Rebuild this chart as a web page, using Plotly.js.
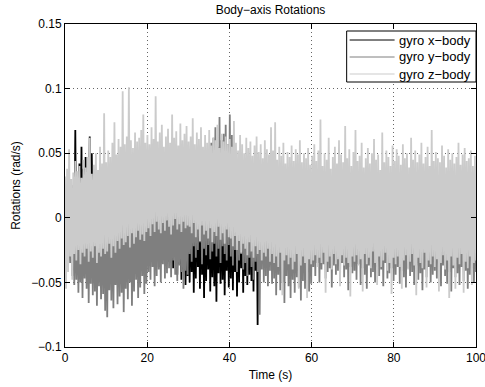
<!DOCTYPE html>
<html>
<head>
<meta charset="utf-8">
<script src="https://cdn.plot.ly/plotly-3.0.1.min.js"></script>
<style>html,body{margin:0;padding:0;background:#fff;}#chart{width:485px;height:387px;}</style>
</head>
<body>
<div id="chart"></div>
<script>
const seriesNames = ["gyro x\u2212body", "gyro y\u2212body", "gyro z\u2212body"];
const durationSeconds = 100;

const gyroX = [
18,-25, 22,-30, 15,-28, 20,-33, 25,-27, 68,-31, 30,-24, 42,-35, 55,-29, 38,-26,
47,-32, 36,-28, 63,-34, 50,-25, 28,-30, 21,-27, 24,-33, 17,-29, 23,-26, 19,-31,
20,-32, 16,-28, 24,-36, 18,-30, 22,-27, 15,-34, 21,-29, 19,-38, 23,-31, 17,-26,
25,-33, 20,-29, 18,-35, 22,-27, 16,-30, 24,-37, 19,-28, 21,-32, 17,-25, 23,-31,
22,-28, 18,-33, 25,-26, 20,-35, 16,-30, 24,-38, 19,-27, 23,-32, 21,-36, 17,-29,
26,-34, 20,-31, 18,-39, 24,-28, 22,-44, 19,-36, 25,-48, 21,-40, 23,-52, 18,-45,
26,-50, 22,-42, 30,-58, 24,-47, 28,-38, 21,-55, 32,-44, 25,-62, 27,-49, 23,-40,
29,-57, 20,-46, 31,-53, 26,-65, 24,-43, 30,-51, 22,-48, 28,-60, 25,-41, 27,-54,
23,-47, 29,-56, 21,-42, 26,-61, 24,-50, 28,-39, 22,-58, 25,-45, 27,-52, 20,-44,
26,-49, 23,-57, 21,-41, 25,-83, 24,-38, 22,-35, 26,-30, 20,-33, 23,-28, 25,-31,
22,-29, 18,-33, 24,-27, 20,-31, 17,-35, 23,-28, 19,-32, 25,-26, 21,-30, 16,-34,
22,-28, 20,-31, 24,-33, 18,-27, 23,-30, 19,-35, 21,-29, 25,-32, 17,-26, 22,-31,
20,-30, 24,-27, 18,-33, 22,-29, 25,-31, 19,-26, 23,-34, 17,-28, 21,-32, 24,-30,
20,-27, 18,-33, 22,-29, 25,-31, 19,-35, 23,-28, 17,-30, 21,-26, 24,-32, 20,-29,
23,-31, 19,-28, 21,-34, 25,-27, 18,-30, 22,-33, 20,-29, 24,-26, 17,-32, 23,-30,
19,-35, 21,-28, 25,-31, 18,-27, 22,-33, 20,-29, 24,-30, 17,-34, 21,-28, 23,-31,
21,-29, 25,-33, 18,-27, 22,-31, 20,-34, 24,-28, 19,-30, 23,-26, 17,-32, 21,-29,
25,-31, 20,-35, 18,-28, 22,-30, 24,-27, 19,-33, 23,-29, 17,-31, 21,-26, 20,-30,
24,-28, 18,-32, 22,-30, 20,-27, 25,-33, 19,-29, 21,-31, 23,-26, 17,-34, 22,-30,
20,-28, 24,-32, 18,-29, 23,-31, 21,-27, 19,-33, 25,-30, 20,-28, 22,-31, 18,-29
];

const gyroY = [
15,-32, 22,-38, 10,-35, 18,-45, 25,-52, 12,-48, 20,-58, 8,-50, 17,-62, 23,-47,
14,-55, 19,-66, 11,-51, 24,-60, 16,-57, 9,-68, 21,-53, 13,-63, 18,-59, 26,-72,
15,-77, 20,-56, 12,-64, 22,-70, 17,-52, 10,-67, 24,-61, 14,-58, 19,-73, 11,-55,
23,-63, 16,-50, 20,-68, 13,-57, 25,-48, 18,-62, 12,-54, 21,-45, 15,-59, 26,-51,
30,-42, 22,-48, 35,-38, 18,-53, 28,-45, 33,-40, 20,-50, 26,-36, 31,-47, 24,-43,
34,-39, 19,-46, 29,-33, 36,-44, 23,-49, 32,-37, 27,-42, 38,-55, 25,-41, 33,-44,
40,-28, 32,-34, 45,-22, 37,-31, 50,-25, 42,-19, 48,-36, 35,-24, 44,-29, 52,-21,
46,-32, 58,-26, 62,-20, 70,-30, 55,-24, 78,-35, 60,-22, 65,-28, 72,-33, 57,-21,
80,-30, 64,-37, 52,-25, 45,-42, 38,-33, 42,-28, 35,-40, 40,-35, 33,-45, 37,-31,
30,-38, 36,-48, 28,-34, 34,-42, 31,-75, 27,-40, 33,-50, 29,-45, 35,-53, 26,-41,
32,-51, 28,-47, 35,-60, 30,-44, 27,-56, 33,-50, 29,-66, 34,-45, 26,-53, 31,-62,
28,-48, 35,-58, 30,-46, 25,-54, 33,-64, 29,-49, 27,-55, 32,-45, 30,-57, 26,-51,
31,-38, 28,-45, 34,-35, 30,-50, 26,-40, 33,-36, 29,-47, 36,-42, 27,-39, 32,-54,
30,-37, 25,-44, 34,-41, 29,-49, 31,-35, 27,-46, 33,-40, 30,-56, 28,-38, 35,-43,
29,-41, 33,-48, 26,-36, 31,-52, 30,-39, 28,-44, 34,-55, 27,-37, 32,-46, 29,-42,
35,-50, 26,-38, 30,-45, 33,-40, 28,-53, 31,-35, 27,-47, 34,-43, 29,-39, 32,-49,
30,-44, 27,-38, 33,-51, 29,-41, 31,-46, 26,-54, 34,-39, 28,-45, 32,-42, 30,-52,
27,-37, 35,-48, 29,-43, 31,-56, 28,-40, 33,-46, 26,-38, 30,-50, 34,-44, 29,-41,
31,-47, 28,-40, 33,-53, 30,-37, 27,-45, 32,-51, 29,-42, 34,-57, 26,-39, 31,-46,
30,-43, 28,-52, 33,-38, 27,-49, 32,-41, 29,-55, 31,-44, 35,-39, 28,-50, 30,-42
];

const gyroZ = [
32,-55, 38,-42, 53,-30, 30,-48, 35,-28, 44,-33, 36,-25, 40,-36, 31,-27, 45,-30,
39,-24, 47,-34, 62,-26, 34,-31, 41,-22, 50,-35, 37,-27, 55,-30, 42,-24, 81,-28,
43,-26, 52,-20, 47,-31, 58,-22, 74,-27, 49,-18, 61,-24, 55,-16, 98,-21, 57,-19,
63,-14, 101,-23, 60,-12, 54,-20, 66,-15, 59,-10, 62,-17, 68,-13, 80,-18, 58,-11,
64,-8, 57,-14, 70,-5, 61,-11, 94,-3, 59,-9, 66,-12, 72,-4, 55,-10, 63,-2,
69,-7, 58,-13, 80,-6, 62,-1, 67,-9, 56,-5, 73,-11, 60,-3, 65,-8, 71,-6,
59,-7, 63,-12, 77,-4, 57,-15, 66,-9, 61,-18, 70,-6, 55,-13, 64,-10, 58,-16,
68,-8, 56,-19, 62,-11, 60,-14, 72,-7, 54,-17, 65,-12, 59,-20, 63,-9, 57,-15,
61,-16, 55,-22, 75,-14, 58,-25, 52,-18, 64,-27, 57,-20, 50,-24, 62,-29, 54,-19,
59,-26, 48,-31, 56,-22, 63,-28, 51,-25, 57,-33, 46,-27, 60,-30, 53,-24, 49,-34,
70,-28, 52,-35, 74,-30, 45,-38, 55,-27, 48,-60, 58,-33, 42,-29, 51,-36, 47,-31,
56,-40, 44,-34, 53,-28, 49,-55, 60,-37, 43,-30, 50,-35, 46,-62, 54,-32, 41,-36,
48,-33, 57,-29, 44,-38, 52,-31, 76,-35, 40,-27, 50,-58, 45,-34, 62,-30, 38,-40,
47,-28, 55,-36, 42,-32, 60,-53, 49,-29, 43,-37, 71,-31, 46,-35, 53,-61, 40,-30,
51,-34, 68,-29, 44,-37, 48,-32, 58,-57, 39,-28, 46,-36, 54,-31, 42,-39, 50,-26,
61,-35, 45,-52, 49,-30, 37,-38, 66,-33, 43,-27, 52,-41, 47,-35, 40,-59, 56,-31,
44,-36, 53,-30, 48,-38, 41,-55, 57,-33, 46,-29, 50,-40, 39,-34, 62,-28, 45,-37,
52,-60, 43,-31, 49,-35, 58,-39, 42,-27, 47,-54, 55,-33, 40,-36, 68,-30, 44,-38,
51,-32, 46,-57, 43,-35, 56,-29, 48,-40, 39,-33, 53,-62, 45,-30, 50,-37, 42,-55,
47,-31, 58,-36, 41,-28, 49,-58, 54,-34, 44,-39, 46,-30, 52,-52, 40,-35, 48,-33
];

const xTickVals = [0, 20, 40, 60, 80, 100];
const yTickVals = [-0.1, -0.05, 0, 0.05, 0.1, 0.15];
const yTickText = ["\u22120.1", "\u22120.05", "0", "0.05", "0.1", "0.15"];
const seriesColors = ["#000000", "#7f7f7f", "#cbcbcb"];

function timeBase(n) { const t = []; for (let i = 0; i < n; i++) t.push(i * durationSeconds / (n - 1)); return t; }
function toRad(arr) { return arr.map(v => v / 1000); }

const allSeries = [gyroX, gyroY, gyroZ];
const traces = allSeries.map((s, k) => ({
  type: "scatter", mode: "lines",
  x: timeBase(s.length), y: toRad(s),
  name: seriesNames[k], showlegend: false,
  line: {color: seriesColors[k], width: 1.8, simplify: false},
  hoverinfo: "skip"
}));

// plot area in pixels
const W = 485, H = 387, M = {l: 65, r: 8.5, t: 24, b: 40};
const pw = W - M.l - M.r, ph = H - M.t - M.b;
const px = v => (v - M.l) / pw;
const py = v => (H - M.b - v) / ph;

const fontFam = "Liberation Sans, Arial, Helvetica, sans-serif";
const font = {family: fontFam, size: 12, color: "#000"};
const legendFont = {family: fontFam, size: 13, color: "#000"};

// legend box drawn by hand (MATLAB style compact legend)
const legBox = {x0: 347, x1: 476.5, y0: 31, y1: 82};
const legRows = [40, 57, 74];
const shapes = [{type: "rect", xref: "paper", yref: "paper", x0: px(legBox.x0), x1: px(legBox.x1), y0: py(legBox.y1), y1: py(legBox.y0),
  fillcolor: "#fff", line: {color: "#000", width: 1}, layer: "above"}];
const annotations = [];
seriesNames.forEach((nm, k) => {
  shapes.push({type: "line", xref: "paper", yref: "paper", x0: px(350), x1: px(395), y0: py(legRows[k]), y1: py(legRows[k]),
    line: {color: seriesColors[k], width: 1}, layer: "above"});
  annotations.push({xref: "paper", yref: "paper", x: px(398), y: py(legRows[k]), xanchor: "left", yanchor: "middle",
    text: nm, showarrow: false, font: legendFont, borderpad: 0});
});

const axisCommon = {
  showline: true, linecolor: "#000", linewidth: 1, mirror: "ticks",
  ticks: "inside", ticklen: 5, tickcolor: "#000", tickwidth: 1,
  showgrid: true, gridcolor: "#666", gridwidth: 1, griddash: "1px,3px",
  zeroline: false, tickfont: font, automargin: false, fixedrange: true,
  ticklabeloverflow: "allow"
};

const layout = {
  width: W, height: H,
  margin: M,
  paper_bgcolor: "#fff", plot_bgcolor: "#fff",
  font: font,
  title: {text: "Body\u2212axis Rotations", font: font, xref: "paper", x: 0.5, xanchor: "center", yref: "container", y: 0.974, yanchor: "middle"},
  xaxis: Object.assign({}, axisCommon, {range: [0, 100], tickvals: xTickVals, title: {text: "Time (s)", font: font, standoff: 6}}),
  yaxis: Object.assign({}, axisCommon, {range: [-0.1, 0.15], tickvals: yTickVals, ticktext: yTickText, title: {text: "Rotations (rad/s)", font: font, standoff: 8}}),
  showlegend: false,
  shapes: shapes,
  annotations: annotations
};

Plotly.newPlot("chart", traces, layout, {displayModeBar: false, staticPlot: true});
</script>
</body>
</html>
